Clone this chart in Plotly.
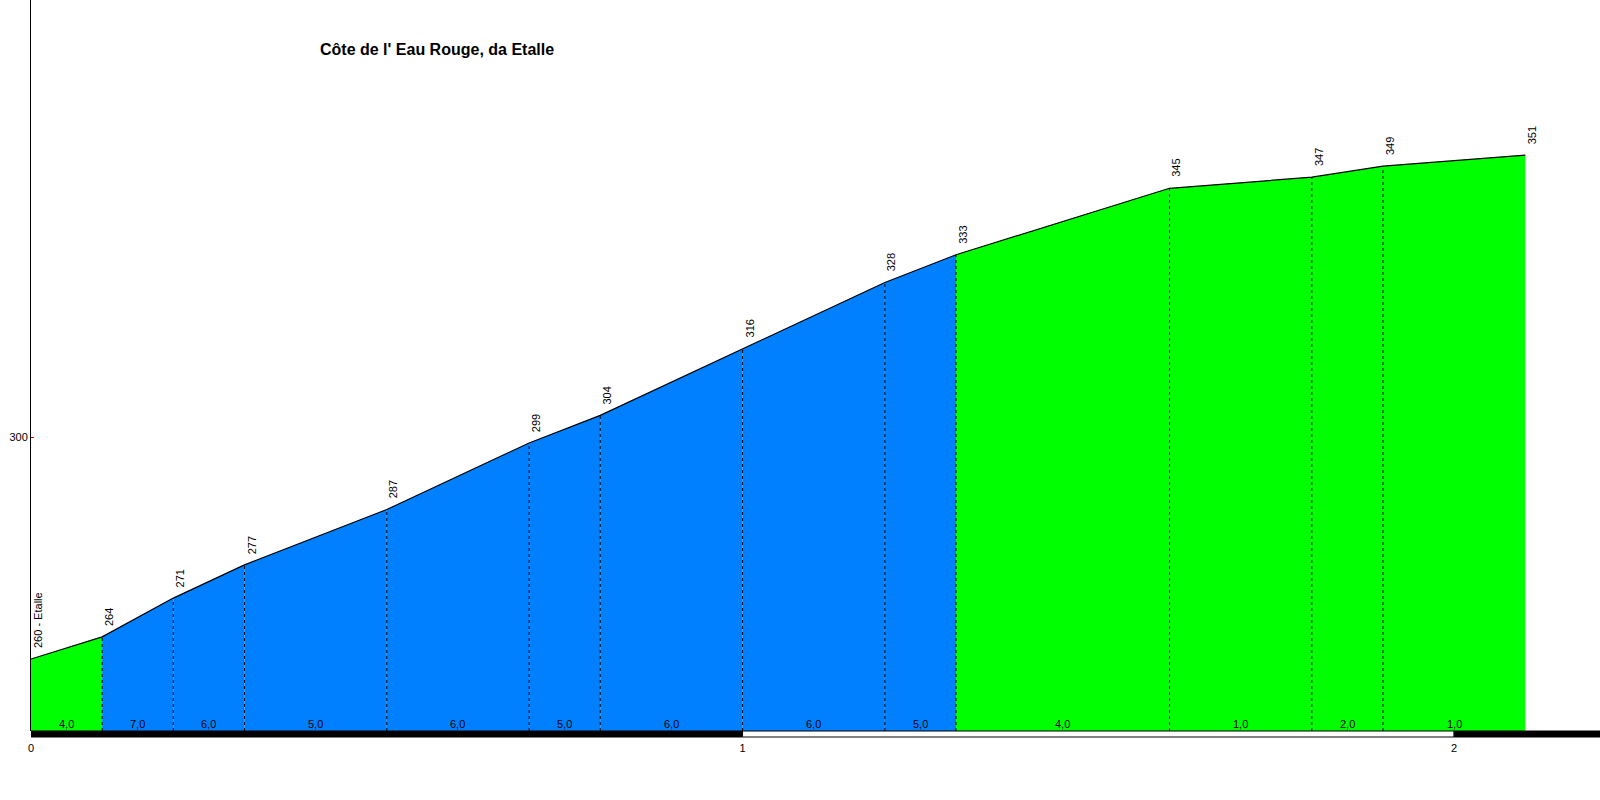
import plotly.graph_objects as go

# profilo altimetrico
km = [0.0, 0.1, 0.2, 0.3, 0.5, 0.7, 0.8, 1.0, 1.2, 1.3, 1.6, 1.8, 1.9, 2.1]
quota = [260, 264, 271, 277, 287, 299, 304, 316, 328, 333, 345, 347, 349, 351]
etichette = ["260 - Etalle", "264", "271", "277", "287", "299", "304", "316",
             "328", "333", "345", "347", "349", "351"]
pendenza = [4.0, 7.0, 6.0, 5.0, 6.0, 5.0, 6.0, 6.0, 5.0, 4.0, 1.0, 2.0, 1.0]
km_ticks = [0, 1, 2]

X_RANGE = [0, 2.205]
Y_RANGE = [247, 379]
BLU = "#0080FF"
VERDE = "#00FF00"

fig = go.Figure()

# tratti colorati per pendenza
for i, p in enumerate(pendenza):
    colore = BLU if p >= 5 else VERDE
    fig.add_trace(go.Scatter(
        x=[km[i], km[i + 1]], y=[quota[i], quota[i + 1]],
        mode="lines", fill="tozeroy", fillcolor=colore,
        line=dict(width=0, color=colore), showlegend=False, hoverinfo="skip"
    ))

# linee tratteggiate verticali
for i in range(1, len(km) - 1):
    fig.add_trace(go.Scatter(
        x=[km[i], km[i]], y=[Y_RANGE[0], quota[i]], mode="lines",
        line=dict(color="black", width=1, dash="3px,3px"),
        showlegend=False, hoverinfo="skip"
    ))

# profilo
fig.add_trace(go.Scatter(
    x=km, y=quota, mode="lines", line=dict(color="black", width=1.2),
    showlegend=False
))

# quote
for x, y, t in zip(km, quota, etichette):
    fig.add_annotation(
        x=x, y=y, text=t, textangle=-90, showarrow=False,
        xanchor="center", yanchor="bottom", xshift=7, yshift=9,
        font=dict(family="Liberation Sans, Arial", size=11, color="black")
    )

# pendenze
for i, p in enumerate(pendenza):
    fig.add_annotation(
        x=(km[i] + km[i + 1]) / 2, y=0, yref="paper", text=f"{p:.1f}".replace(".", ","),
        showarrow=False, yanchor="bottom", yshift=-1,
        font=dict(family="Liberation Sans, Arial", size=11, color="black")
    )

# barra chilometrica
h = 6 / 731
for k in range(len(km_ticks)):
    x0 = km_ticks[k]
    x1 = km_ticks[k + 1] if k + 1 < len(km_ticks) else X_RANGE[1]
    nero = k % 2 == 0
    fig.add_shape(
        type="rect", xref="x", yref="paper", x0=x0, x1=x1, y0=-h, y1=0,
        fillcolor="black" if nero else "white",
        line=dict(color="black", width=1)
    )

fig.update_layout(
    width=1600, height=800,
    margin=dict(l=31, r=0, t=0, b=69),
    plot_bgcolor="white", paper_bgcolor="white",
    font=dict(family="Liberation Sans, Arial", size=11, color="black"),
    title=dict(
        text="<b>Côte de l' Eau Rouge, da Etalle</b>",
        xref="container", x=320 / 1600, xanchor="left",
        yref="container", y=1 - 49 / 800, yanchor="middle",
        font=dict(family="Liberation Sans, Arial", size=16, color="black")
    ),
    xaxis=dict(
        range=X_RANGE, showgrid=False, zeroline=False, showline=False,
        tickvals=km_ticks, ticktext=[str(k) for k in km_ticks],
        ticks="", ticklabelstandoff=9,
        tickfont=dict(size=11)
    ),
    yaxis=dict(
        range=Y_RANGE, showgrid=False, zeroline=False,
        showline=True, linecolor="black", linewidth=1,
        tickvals=[300], ticks="inside", ticklen=3, tickcolor="red",
        tickfont=dict(size=11)
    ),
)

fig.write_html("out.html", config={"displayModeBar": False},
               post_script="document.body.style.margin='0';")
